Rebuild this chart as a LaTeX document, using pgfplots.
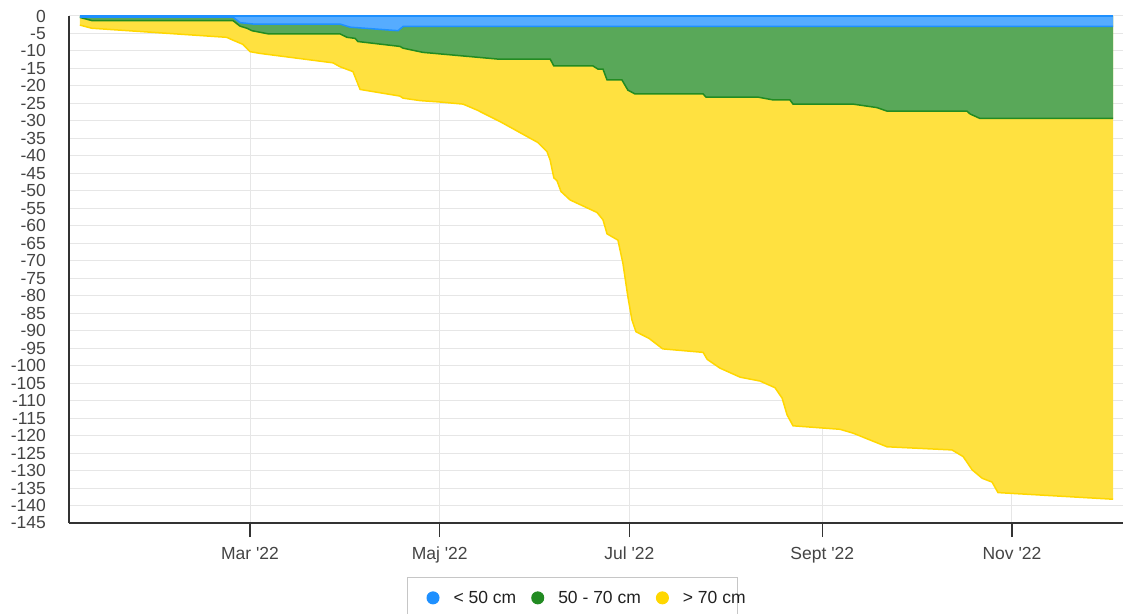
\documentclass[border=0pt]{standalone}
\usepackage{fontspec}
\setmainfont{Liberation Sans}
\usepackage{pgfplots}
\pgfplotsset{compat=1.18}

\definecolor{bline}{RGB}{30,144,255}
\definecolor{bfill}{RGB}{86,172,255}
\definecolor{gline}{RGB}{34,139,34}
\definecolor{gfill}{RGB}{89,168,89}
\definecolor{yline}{RGB}{255,215,0}
\definecolor{yfill}{RGB}{255,225,64}
\definecolor{gridc}{RGB}{230,230,230}
\definecolor{axc}{RGB}{51,51,51}
\definecolor{lblc}{RGB}{68,68,68}

\newcommand{\q}{\textquotesingle}

\begin{document}
\begin{tikzpicture}
\useasboundingbox (-69pt,-90pt) rectangle (1054pt,523pt);
\begin{axis}[
    at={(0pt,0pt)}, anchor=south west,
    scale only axis, width=1054pt, height=507pt,
    xmin=1.8, xmax=340.7, ymin=-145, ymax=0,
    axis x line*=bottom, axis y line*=left,
    axis line style={axc, line width=1.3pt},
    xtick={60,121,182,244,305},
    xticklabels={Mar \q22, Maj \q22, Jul \q22, Sept \q22, Nov \q22},
    ytick={-145,-140,...,0},
    tick align=outside,
    x tick style={axc, line width=1.2pt},
    major tick length=14pt,
    y tick style={draw=none},
    grid=major, major grid style={gridc, line width=1pt},
    tick label style={font=\fontsize{17.5}{20}\selectfont, text=lblc},
    /pgf/number format/assume math mode=true,
    yticklabel style={inner xsep=0pt, xshift=-9pt},
    xticklabel style={inner sep=0pt, yshift=-10pt},
    legend style={at={(axis description cs:0.3207,-0.1065)}, anchor=north west,
        draw=gray!45, line width=1pt, inner xsep=19pt, inner ysep=13.5pt,
        font=\fontsize{17.5}{20}\selectfont, text=black!87,
        nodes={inner sep=0pt, anchor=west},
        /tikz/every odd column/.append style={column sep=14pt},
        /tikz/every even column/.append style={column sep=15pt}},
    legend columns=3,
]
% filled areas (each from 0 down to its lower edge)
\addplot[draw=none, fill=yfill, forget plot] coordinates {
(5.3,-2.6) (9.1,-3.5) (52.5,-6.1) (54.5,-6.9) (57.7,-8.1) (60,-10.2) (63.2,-10.7)
(86.7,-13.4) (88.9,-14.5) (93.1,-15.9) (95.4,-21.0) (108.2,-22.9) (109.2,-23.5)
(114.7,-24.2) (121.1,-24.6) (128.5,-25.2) (133,-26.9) (140.4,-30.2) (152.6,-36.2)
(155.5,-38.8) (156.5,-41.2) (157.7,-46.3) (158.7,-47.1) (160,-50.2) (162.9,-52.6)
(171.6,-56.2) (173.5,-58.3) (174.8,-62.3) (178.3,-64.1) (179.9,-70.7) (181.5,-80.3)
(182.8,-86.9) (184.1,-90.3) (188.3,-92.2) (192.7,-95.2) (205.7,-96.2) (207,-98.2)
(211.1,-100.7) (217.6,-103.3) (224,-104.4) (228.8,-106.3) (231.1,-109.3) (232.7,-114.1)
(234.6,-117.2) (249.7,-118.2) (253.9,-119.3) (264.8,-123.2) (285.7,-124.1) (289.3,-126.0)
(292.2,-129.8) (295.4,-132.2) (298.6,-133.3) (300.5,-136.3) (337.5,-138.2)
} \closedcycle;
\addplot[draw=none, fill=gfill, forget plot] coordinates {
(5.3,-0.4) (9.1,-1.3) (54.5,-1.3) (56.8,-2.9) (59,-3.5) (60.6,-4.2) (65.8,-5.1)
(88.9,-5.1) (91.2,-6.1) (93.8,-6.4) (94.7,-7.3) (108.2,-8.7) (109.2,-9.2) (115.6,-10.4)
(139.4,-12.3) (156.5,-12.3) (157.7,-14.3) (170.3,-14.3) (171.9,-15.2) (173.5,-15.2)
(174.8,-18.3) (179.6,-18.3) (181.5,-21.2) (183.8,-22.3) (205.7,-22.3) (206.6,-23.2)
(223.3,-23.2) (228.2,-24.0) (233.6,-24.0) (234.6,-25.2) (253.9,-25.2) (261.6,-26.2)
(264.8,-27.2) (290.5,-27.2) (291.5,-28.0) (294.7,-29.3) (337.5,-29.3)
} \closedcycle;
\addplot[draw=none, fill=bfill, forget plot] coordinates {
(5.3,-0.3) (54.5,-0.3) (56.8,-1.9) (61,-2.3) (88.9,-2.3) (92.2,-3.2) (107.6,-4.2)
(109.2,-3.0) (337.5,-3.0)
} \closedcycle;
% edge lines
\addplot[yline, line width=1.5pt, forget plot] coordinates {
(5.3,-2.6) (9.1,-3.5) (52.5,-6.1) (54.5,-6.9) (57.7,-8.1) (60,-10.2) (63.2,-10.7)
(86.7,-13.4) (88.9,-14.5) (93.1,-15.9) (95.4,-21.0) (108.2,-22.9) (109.2,-23.5)
(114.7,-24.2) (121.1,-24.6) (128.5,-25.2) (133,-26.9) (140.4,-30.2) (152.6,-36.2)
(155.5,-38.8) (156.5,-41.2) (157.7,-46.3) (158.7,-47.1) (160,-50.2) (162.9,-52.6)
(171.6,-56.2) (173.5,-58.3) (174.8,-62.3) (178.3,-64.1) (179.9,-70.7) (181.5,-80.3)
(182.8,-86.9) (184.1,-90.3) (188.3,-92.2) (192.7,-95.2) (205.7,-96.2) (207,-98.2)
(211.1,-100.7) (217.6,-103.3) (224,-104.4) (228.8,-106.3) (231.1,-109.3) (232.7,-114.1)
(234.6,-117.2) (249.7,-118.2) (253.9,-119.3) (264.8,-123.2) (285.7,-124.1) (289.3,-126.0)
(292.2,-129.8) (295.4,-132.2) (298.6,-133.3) (300.5,-136.3) (337.5,-138.2)
};
\addplot[gline, line width=1.5pt, forget plot] coordinates {
(5.3,-0.4) (9.1,-1.3) (54.5,-1.3) (56.8,-2.9) (59,-3.5) (60.6,-4.2) (65.8,-5.1)
(88.9,-5.1) (91.2,-6.1) (93.8,-6.4) (94.7,-7.3) (108.2,-8.7) (109.2,-9.2) (115.6,-10.4)
(139.4,-12.3) (156.5,-12.3) (157.7,-14.3) (170.3,-14.3) (171.9,-15.2) (173.5,-15.2)
(174.8,-18.3) (179.6,-18.3) (181.5,-21.2) (183.8,-22.3) (205.7,-22.3) (206.6,-23.2)
(223.3,-23.2) (228.2,-24.0) (233.6,-24.0) (234.6,-25.2) (253.9,-25.2) (261.6,-26.2)
(264.8,-27.2) (290.5,-27.2) (291.5,-28.0) (294.7,-29.3) (337.5,-29.3)
};
\addplot[bline, line width=1.5pt, forget plot] coordinates {
(5.3,-0.3) (54.5,-0.3) (56.8,-1.9) (61,-2.3) (88.9,-2.3) (92.2,-3.2) (107.6,-4.2)
(109.2,-3.0) (337.5,-3.0)
};
\addplot[bline, line width=1.5pt, forget plot] coordinates {(5.3,0) (337.5,0)};

% legend
\addlegendimage{legend image code/.code={\fill[bline] (0pt,0pt) circle (6pt);}}
\addlegendentry{< 50 cm}
\addlegendimage{legend image code/.code={\fill[gline] (0pt,0pt) circle (6pt);}}
\addlegendentry{50 - 70 cm}
\addlegendimage{legend image code/.code={\fill[yline] (0pt,0pt) circle (6pt);}}
\addlegendentry{\makebox[36pt][l]{> 70 cm}}
\end{axis}
\end{tikzpicture}
\end{document}
